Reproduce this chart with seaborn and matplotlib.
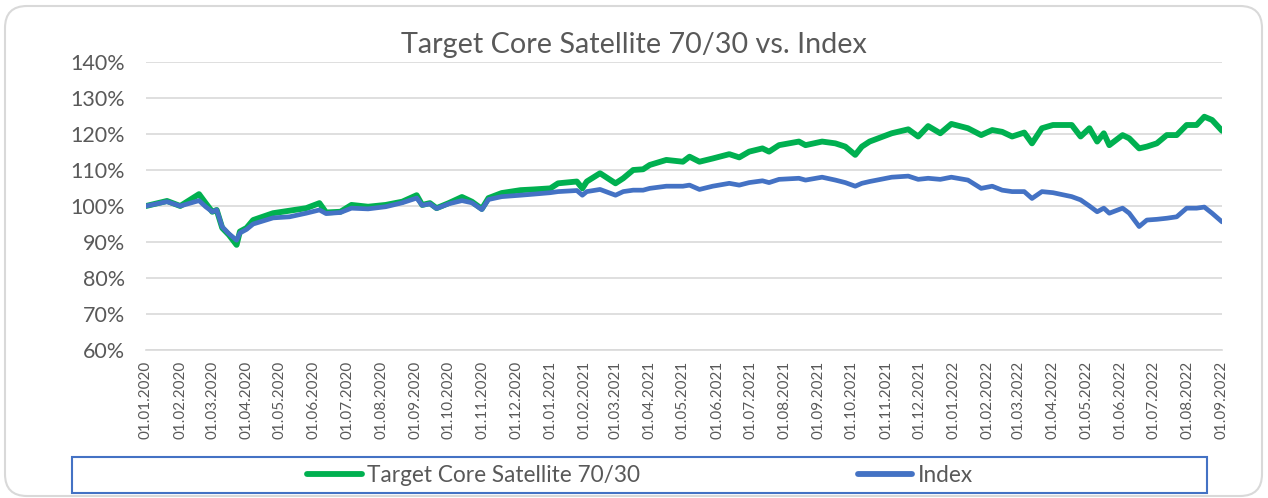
import numpy as np
import pandas as pd
import seaborn as sns
import matplotlib.pyplot as plt
import matplotlib.dates as mdates
from matplotlib.patches import FancyBboxPatch, Rectangle
from matplotlib.transforms import IdentityTransform

# date points
datumi = ["2020-01-01", "2020-01-20", "2020-02-01", "2020-02-18", "2020-02-24",
          "2020-03-01", "2020-03-05", "2020-03-10", "2020-03-16", "2020-03-23",
          "2020-03-26", "2020-04-01", "2020-04-07", "2020-04-25", "2020-05-10",
          "2020-05-25", "2020-06-06", "2020-06-12", "2020-06-25", "2020-07-05",
          "2020-07-20", "2020-08-05", "2020-08-20", "2020-09-02", "2020-09-07",
          "2020-09-14", "2020-09-20", "2020-10-01", "2020-10-13", "2020-10-22",
          "2020-10-31", "2020-11-06", "2020-11-18", "2020-12-05", "2020-12-17",
          "2021-01-01", "2021-01-08", "2021-01-25", "2021-01-30", "2021-02-03",
          "2021-02-15", "2021-03-01", "2021-03-08", "2021-03-17", "2021-03-26",
          "2021-04-01", "2021-04-16", "2021-05-01", "2021-05-07", "2021-05-16",
          "2021-05-28", "2021-06-12", "2021-06-21", "2021-06-30", "2021-07-12",
          "2021-07-18", "2021-07-27", "2021-08-14", "2021-08-20", "2021-09-04",
          "2021-09-16", "2021-09-25", "2021-10-04", "2021-10-10", "2021-10-17",
          "2021-11-06", "2021-11-21", "2021-11-30", "2021-12-09", "2021-12-20",
          "2021-12-30", "2022-01-14", "2022-01-26", "2022-02-05", "2022-02-14",
          "2022-02-23", "2022-03-06", "2022-03-13", "2022-03-22", "2022-04-01",
          "2022-04-18", "2022-04-26", "2022-05-04", "2022-05-11", "2022-05-17",
          "2022-05-22", "2022-06-03", "2022-06-09", "2022-06-18", "2022-06-25",
          "2022-07-04", "2022-07-13", "2022-07-22", "2022-07-31", "2022-08-09",
          "2022-08-16", "2022-08-23", "2022-09-01"]

target = [100.0, 101.4, 100.0, 103.3, 100.8,
          98.4, 98.9, 93.9, 92.0, 89.2,
          92.9, 93.9, 96.1, 98.0, 98.7,
          99.4, 100.8, 98.2, 98.4, 100.3,
          99.8, 100.3, 101.2, 103.0, 100.3,
          100.8, 99.4, 100.8, 102.5, 101.2,
          99.2, 102.2, 103.6, 104.4, 104.6,
          104.9, 106.3, 106.8, 104.9, 106.8,
          109.1, 106.3, 107.7, 110.0, 110.2,
          111.4, 112.8, 112.3, 113.7, 112.3,
          113.2, 114.4, 113.5, 115.1, 116.0,
          115.1, 116.9, 117.9, 116.9, 117.9,
          117.4, 116.5, 114.2, 116.5, 117.9,
          120.2, 121.3, 119.3, 122.2, 120.2,
          122.8, 121.6, 119.7, 121.1, 120.6,
          119.3, 120.4, 117.4, 121.6, 122.5,
          122.5, 119.3, 121.6, 117.9, 120.2,
          116.9, 119.7, 118.8, 116.0, 116.5,
          117.4, 119.7, 119.7, 122.5, 122.5,
          124.8, 123.9, 120.9]

index = [100.0, 101.2, 100.0, 101.5, 99.8,
         98.4, 98.9, 94.2, 92.3, 90.5,
         92.5, 93.5, 95.0, 96.7, 97.0,
         98.0, 98.9, 97.9, 98.2, 99.4,
         99.2, 99.8, 100.9, 102.2, 100.2,
         100.6, 99.3, 100.6, 101.5, 100.9,
         99.0, 101.8, 102.6, 103.0, 103.3,
         103.7, 104.0, 104.3, 103.0, 104.0,
         104.6, 103.0, 104.0, 104.4, 104.4,
         104.9, 105.5, 105.5, 105.8, 104.6,
         105.5, 106.3, 105.8, 106.5, 107.0,
         106.5, 107.4, 107.7, 107.2, 108.0,
         107.2, 106.5, 105.5, 106.3, 106.8,
         108.0, 108.3, 107.4, 107.7, 107.4,
         108.0, 107.2, 104.9, 105.5, 104.4,
         104.0, 104.0, 102.1, 104.0, 103.7,
         102.6, 101.7, 100.0, 98.4, 99.4,
         98.0, 99.4, 98.0, 94.3, 96.1,
         96.3, 96.6, 97.0, 99.4, 99.4,
         99.7, 98.0, 95.6]

serii = ["Target Core Satellite 70/30", "Index"]
culori = ["#00B050", "#4472C4"]

df = pd.DataFrame({"Datum": pd.to_datetime(datumi),
                   serii[0]: np.array(target) / 100,
                   serii[1]: np.array(index) / 100})
df_lung = df.melt(id_vars="Datum", var_name="Serie", value_name="Vrijednost")

sns.set_style("white")
plt.rcParams['font.family'] = ['Lato', 'DejaVu Sans']

fig = plt.figure(figsize=(12.68, 4.98), dpi=100)
ax = fig.add_axes([146 / 1268, 1 - 350 / 498, (1222 - 146) / 1268, (350 - 62) / 498])

sns.lineplot(data=df_lung, x="Datum", y="Vrijednost", hue="Serie",
             hue_order=serii, palette=culori, ax=ax, legend=False)
for linija, lw in zip(ax.lines, [4.2, 3.4]):
    linija.set_linewidth(lw)
    linija.set_solid_capstyle("round")
    linija.set_solid_joinstyle("round")

siva = "#595959"
ax.set_xlim(pd.Timestamp("2020-01-01"), pd.Timestamp("2022-09-01"))
ax.set_ylim(0.6, 1.4)
ax.set_yticks(np.arange(0.6, 1.41, 0.1))
ax.set_yticklabels([f"{v}%" for v in range(60, 141, 10)])
ax.xaxis.set_major_locator(mdates.MonthLocator())
ax.xaxis.set_major_formatter(mdates.DateFormatter("%d.%m.%Y"))
ax.tick_params(axis="x", rotation=90, labelsize=11, colors=siva, length=5,
               color="#D9D9D9", width=1, direction="out", pad=3)
ax.tick_params(axis="y", labelsize=15.5, colors=siva, length=0, pad=15)
ax.set_xlabel("")
ax.set_ylabel("")
ax.grid(axis="y", color="#D9D9D9", linewidth=1.2)
ax.set_axisbelow(True)
for s in ["top", "right", "left"]:
    ax.spines[s].set_visible(False)
ax.spines["bottom"].set_color("#D9D9D9")
ax.spines["bottom"].set_linewidth(1.2)

fig.text(0.5, 1 - 45 / 498, "Target Core Satellite 70/30 vs. Index",
         ha="center", va="center", fontsize=20.7, color=siva)

# legenda
ruke = [plt.Line2D([], [], color=c, lw=4.2, solid_capstyle="round") for c in culori]
fig.legend(ruke, serii, loc="center", bbox_to_anchor=(640 / 1268, 1 - 475 / 498),
           ncol=2, frameon=False, fontsize=16.3, handlelength=2.4, handletextpad=0.25,
           columnspacing=9.6, labelcolor=siva)
fig.patches.append(Rectangle((72 / 1268, 1 - 493 / 498), (1207 - 72) / 1268, 36 / 498,
                             transform=fig.transFigure, fill=False,
                             edgecolor="#4472C4", linewidth=1.5))
# okvir
fig.patches.append(FancyBboxPatch((5, 2), 1257, 490, boxstyle="round,pad=0,rounding_size=22",
                                  transform=IdentityTransform(), fill=False,
                                  edgecolor="#D9D9D9", linewidth=1.5))

fig.savefig("out.png", dpi=100)
